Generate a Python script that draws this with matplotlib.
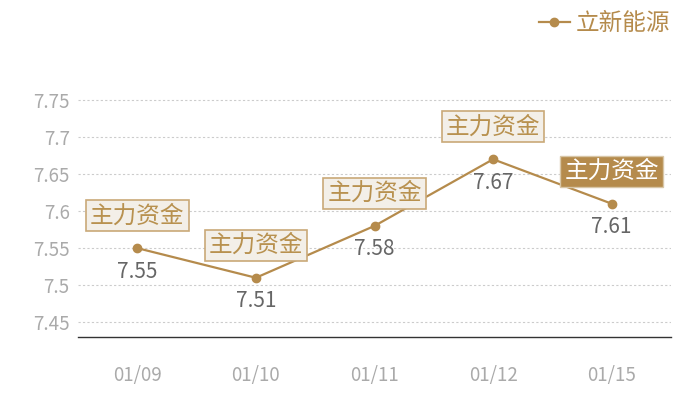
import matplotlib.pyplot as plt

plt.rcParams['font.family'] = ['Noto Sans CJK SC', 'DejaVu Sans']

dates = ['01/09', '01/10', '01/11', '01/12', '01/15']
prices = [7.55, 7.51, 7.58, 7.67, 7.61]
flags = ['主力资金', '主力资金', '主力资金', '主力资金', '主力资金']
flag_filled = [False, False, False, False, True]
series_name = '立新能源'
yticks = [7.45, 7.5, 7.55, 7.6, 7.65, 7.7, 7.75]
ytick_labels = ['7.45', '7.5', '7.55', '7.6', '7.65', '7.7', '7.75']

gold = '#b58b4c'

fig = plt.figure(figsize=(7, 4), dpi=100)
ax = fig.add_axes([78 / 700, 1 - 337 / 400, 593 / 700, 274 / 400])

x = list(range(len(dates)))
ax.plot(x, prices, color=gold, lw=1.6, marker='o', ms=6, label=series_name)

ax.set_xlim(-0.5, len(dates) - 0.5)
ax.set_ylim(7.43, 7.8)
ax.set_xticks(x)
ax.set_xticklabels(dates)
ax.set_yticks(yticks)
ax.set_yticklabels(ytick_labels)
ax.tick_params(axis='both', length=0, labelsize=13.5, colors='#aaaaaa')
ax.tick_params(axis='x', pad=20)
ax.tick_params(axis='y', pad=6)

for s in ['top', 'right', 'left']:
    ax.spines[s].set_visible(False)
ax.spines['bottom'].set_color('#333333')
ax.spines['bottom'].set_linewidth(1)
ax.grid(axis='y', linestyle=(0, (2, 2)), color='#cccccc', lw=0.8)
ax.set_axisbelow(True)

# value labels below the points and flag boxes above
for i, (v, txt, filled) in enumerate(zip(prices, flags, flag_filled)):
    ax.annotate(f'{v:.2f}', (i, v), xytext=(0, -9), textcoords='offset points',
                ha='center', va='top', fontsize=15, color='#666666')
    if filled:
        box = dict(boxstyle='square,pad=0.17', fc=gold, ec='#d8c6a6', lw=1)
        col = 'white'
    else:
        box = dict(boxstyle='square,pad=0.17', fc='#f3efe8', ec='#c9a978', lw=1.2)
        col = '#b8914f'
    ax.annotate(txt, (i, v), xytext=(0, 15), textcoords='offset points',
                ha='center', va='bottom', fontsize=17, color=col, bbox=box)

leg = ax.legend(loc='upper right', bbox_to_anchor=(682 / 700, 1.0), bbox_transform=fig.transFigure,
                frameon=False, fontsize=17, handlelength=1.3, handletextpad=0.25,
                borderaxespad=0.1)
for t in leg.get_texts():
    t.set_color(gold)

fig.savefig('out.png', dpi=100)
